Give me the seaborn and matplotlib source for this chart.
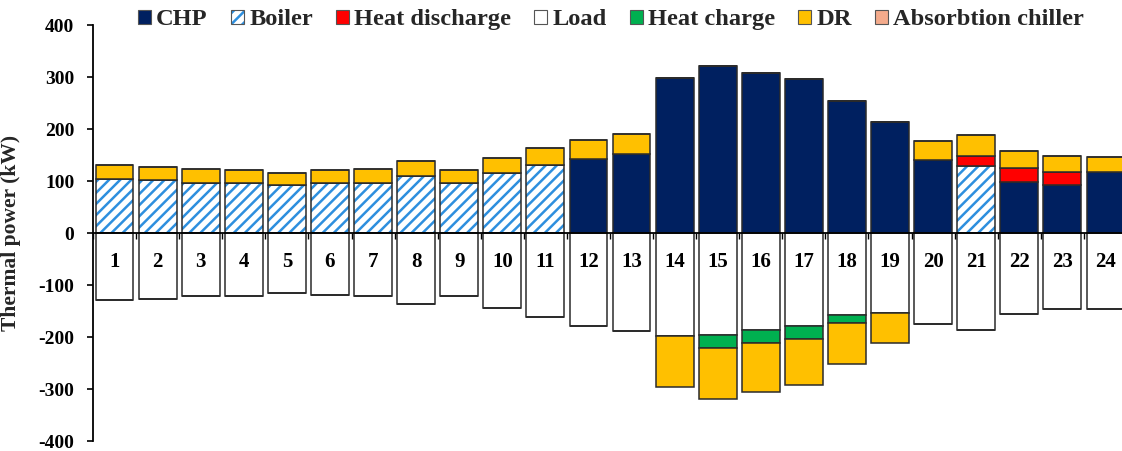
import numpy as np
import matplotlib
matplotlib.use('Agg')
import matplotlib.pyplot as plt
import seaborn as sns
from matplotlib.patches import Patch
from matplotlib.ticker import FixedLocator, MultipleLocator

# hours of the day
hours = [str(h) for h in range(1, 25)]

# supply side (kW, drawn above zero)
chp = [0, 0, 0, 0, 0, 0, 0, 0, 0, 0, 0, 143, 151, 299, 322, 308, 296, 254, 214, 140, 0, 99, 92, 117]
boiler = [104, 101, 97, 96, 92, 96, 97, 110, 96, 115, 131, 0, 0, 0, 0, 0, 0, 0, 0, 0, 128, 0, 0, 0]
heat_discharge = [0] * 20 + [21, 26, 25, 0]
dr_up = [26, 25, 26, 25, 24, 25, 26, 29, 25, 29, 32, 36, 39, 0, 0, 0, 0, 0, 0, 36, 40, 33, 32, 30]
absorption_chiller = [0] * 24

# demand side (kW, drawn below zero)
load = [129, 126, 122, 121, 115, 119, 121, 137, 121, 144, 162, 178, 189, 198, 197, 186, 179, 158, 153, 175, 186, 156, 147, 146]
heat_charge = [0] * 14 + [25, 26, 25, 15] + [0] * 6
dr_down = [0] * 13 + [98, 98, 93, 88, 78, 59] + [0] * 5

legend_labels = ['CHP', 'Boiler', 'Heat discharge', 'Load', 'Heat charge', 'DR', 'Absorbtion chiller']

c_chp = '#002060'
c_boiler = '#2E8FDE'
c_hd = '#FF0000'
c_hc = '#00B050'
c_dr = '#FFC000'
c_abs = '#F4AB8C'
c_edge = '#2b2b2b'

sns.set_theme(style='white')
plt.rcParams['font.family'] = ['Liberation Serif', 'DejaVu Serif']
plt.rcParams['font.weight'] = 'bold'
plt.rcParams['hatch.linewidth'] = 1.8
plt.rcParams['axes.unicode_minus'] = False

fig = plt.figure(figsize=(11.22, 4.51), dpi=100)
ax = fig.add_axes([93 / 1122, 10 / 451, 1034 / 1122, 416 / 451])

bw = 0.88


def layer(values, bottom, color, **kw):
    opts = dict(edgecolor=c_edge, linewidth=1.1)
    opts.update(kw)
    sns.barplot(x=hours, y=values, order=hours, bottom=bottom, color=color,
                width=bw, saturation=1, errorbar=None, ax=ax, **opts)


chp_a = np.array(chp, dtype=float)
boiler_a = np.array(boiler, dtype=float)
hd_a = np.array(heat_discharge, dtype=float)
dru_a = np.array(dr_up, dtype=float)
abs_a = np.array(absorption_chiller, dtype=float)
load_a = np.array(load, dtype=float)
hc_a = np.array(heat_charge, dtype=float)
drd_a = np.array(dr_down, dtype=float)

# positive stack
layer(chp_a, np.zeros(24), c_chp)
layer(boiler_a, chp_a, 'white', edgecolor=c_boiler, linewidth=0, hatch='///')
layer(boiler_a, chp_a, c_edge, fill=False, linewidth=1.1)
layer(hd_a, chp_a + boiler_a, c_hd)
layer(dru_a, chp_a + boiler_a + hd_a, c_dr)
layer(abs_a, chp_a + boiler_a + hd_a + dru_a, c_abs)

# negative stack
layer(-load_a, np.zeros(24), 'white')
layer(-hc_a, -load_a, c_hc)
layer(-drd_a, -load_a - hc_a, c_dr)

ax.set_xlim(-0.5, 23.5)
ax.set_ylim(-400, 400)
ax.set_axisbelow(False)
ax.set_xlabel('')
ax.set_ylabel('Thermal power (kW)', fontsize=15.5, fontweight='bold')
ax.yaxis.set_label_coords(-0.0696, 0.5)

ax.spines['top'].set_visible(False)
ax.spines['right'].set_visible(False)
ax.spines['bottom'].set_position(('data', 0))
for s in ['left', 'bottom']:
    ax.spines[s].set_color('black')
    ax.spines[s].set_linewidth(1.3)

ax.yaxis.set_major_locator(MultipleLocator(100))
ax.tick_params(axis='y', which='major', direction='out', length=4.5, width=1.2,
               pad=9, labelsize=14, left=True, colors='black')
ax.set_xticks(range(24))
ax.set_xticklabels(hours)
ax.xaxis.set_minor_locator(FixedLocator(np.arange(-0.5, 24, 1)))
ax.tick_params(axis='x', which='major', length=0, pad=14, labelsize=15, colors='black')
ax.tick_params(axis='x', which='minor', direction='out', length=4, width=1, bottom=True, color='black')
for t in ax.get_xticklabels() + ax.get_yticklabels():
    t.set_fontweight('bold')

# legend
hedge = '#555555'
handles = [
    Patch(facecolor=c_chp, edgecolor=hedge, linewidth=0.8),
    (Patch(facecolor='white', edgecolor=c_boiler, linewidth=0, hatch='///'),
     Patch(facecolor='none', edgecolor=hedge, linewidth=0.8)),
    Patch(facecolor=c_hd, edgecolor=hedge, linewidth=0.8),
    Patch(facecolor='white', edgecolor=hedge, linewidth=0.8),
    Patch(facecolor=c_hc, edgecolor=hedge, linewidth=0.8),
    Patch(facecolor=c_dr, edgecolor=hedge, linewidth=0.8),
    Patch(facecolor=c_abs, edgecolor=hedge, linewidth=0.8),
]
fig.legend(handles, legend_labels, loc='center', bbox_to_anchor=(0.5446, 0.9557),
           ncol=7, frameon=False, prop={'family': 'Liberation Serif', 'weight': 'bold', 'size': 17.6},
           handlelength=0.52, handleheight=0.52, handletextpad=0.22, columnspacing=0.95,
           borderpad=0, borderaxespad=0)

fig.savefig('out.png', dpi=100)
